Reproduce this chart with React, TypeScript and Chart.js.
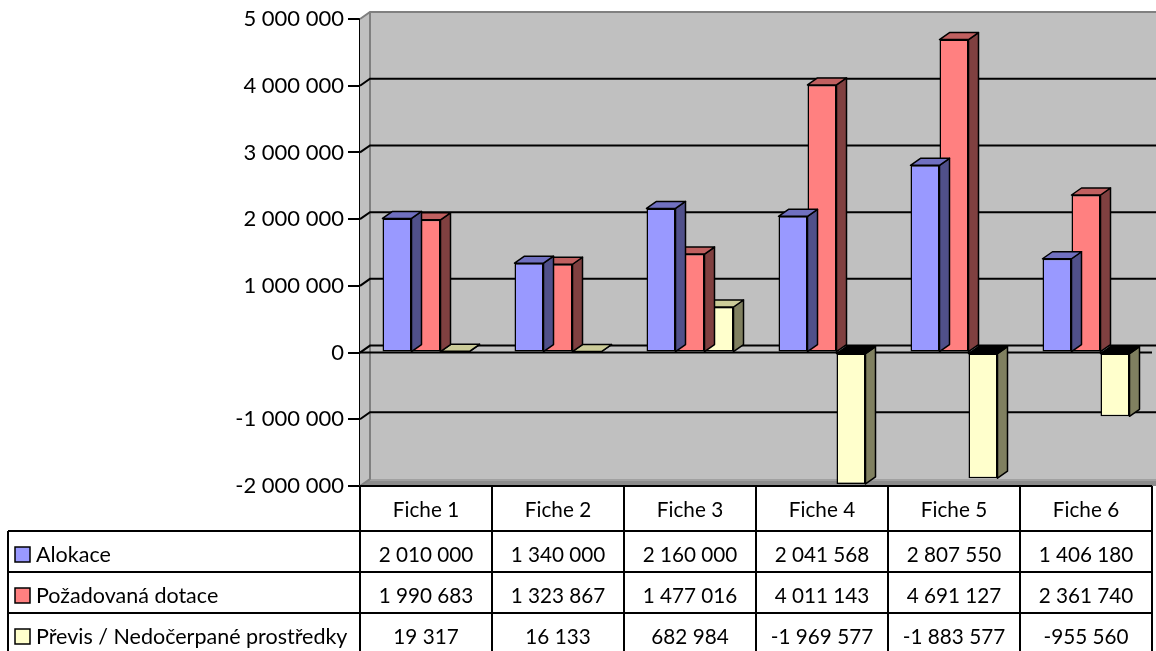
import React, { useEffect, useRef } from "react";
import { Chart, registerables } from "chart.js";
Chart.register(...registerables);

const categories = ["Fiche 1", "Fiche 2", "Fiche 3", "Fiche 4", "Fiche 5", "Fiche 6"];
const alokace = [2010000, 1340000, 2160000, 2041568, 2807550, 1406180];
const pozadovanaDotace = [1990683, 1323867, 1477016, 4011143, 4691127, 2361740];
const previs = [19317, 16133, 682984, -1969577, -1883577, -955560];
const seriesNames = ["Alokace", "Požadovaná dotace", "Převis / Nedočerpané prostředky"];
const yMin = -2000000;
const yMax = 5000000;
const yStep = 1000000;

const frontColors = ["#9999FF", "#FF8080", "#FFFFCC"];
const topColors = ["#7070C0", "#C06060", "#CCCC99"];
const sideColors = ["#50508A", "#804040", "#808060"];

const DX = 10;
const DY = 7;
const FONT = "Lato, 'Open Sans', sans-serif";

function fmt(n: number): string {
  const s = Math.round(Math.abs(n)).toString().replace(/\B(?=(\d{3})+(?!\d))/g, " ");
  return (n < 0 ? "-" : "") + s;
}

const wallsPlugin = {
  id: "walls3d",
  beforeDatasetsDraw(chart: any) {
    const ctx = chart.ctx;
    const ca = chart.chartArea;
    const y = chart.scales.y;
    const right = chart.width + 20;
    ctx.save();
    ctx.fillStyle = "#C0C0C0";
    ctx.fillRect(ca.left + DX, ca.top - DY, right - ca.left, ca.bottom - ca.top);
    ctx.beginPath();
    ctx.moveTo(ca.left, ca.top);
    ctx.lineTo(ca.left + DX, ca.top - DY);
    ctx.lineTo(ca.left + DX, ca.bottom - DY);
    ctx.lineTo(ca.left, ca.bottom);
    ctx.closePath();
    ctx.fill();
    ctx.fillStyle = "#8C8C8C";
    ctx.beginPath();
    ctx.moveTo(ca.left, ca.bottom);
    ctx.lineTo(ca.left + DX, ca.bottom - DY);
    ctx.lineTo(right, ca.bottom - DY);
    ctx.lineTo(right, ca.bottom);
    ctx.closePath();
    ctx.fill();
    ctx.strokeStyle = "#A8A8A8";
    ctx.lineWidth = 1.5;
    ctx.beginPath();
    ctx.moveTo(ca.left + DX, ca.bottom - DY + 1);
    ctx.lineTo(right, ca.bottom - DY + 1);
    ctx.stroke();
    ctx.strokeStyle = "#808080";
    ctx.lineWidth = 2;
    ctx.beginPath();
    ctx.moveTo(ca.left, ca.top);
    ctx.lineTo(ca.left + DX, ca.top - DY);
    ctx.lineTo(right, ca.top - DY);
    ctx.moveTo(ca.left + DX, ca.top - DY);
    ctx.lineTo(ca.left + DX, ca.bottom - DY);
    ctx.lineTo(ca.left, ca.bottom);
    ctx.stroke();
    ctx.strokeStyle = "#000";
    ctx.lineWidth = 2;
    for (let v = yMin + yStep; v < yMax; v += yStep) {
      const py = y.getPixelForValue(v);
      ctx.beginPath();
      ctx.moveTo(ca.left, py);
      ctx.lineTo(ca.left + DX, py - DY);
      ctx.lineTo(right, py - DY);
      ctx.stroke();
    }
    const p0 = y.getPixelForValue(0);
    ctx.beginPath();
    ctx.moveTo(ca.left, p0);
    ctx.lineTo(ca.right, p0);
    ctx.stroke();
    ctx.restore();
  },
  afterDatasetDraw(chart: any, args: any) {
    const ctx = chart.ctx;
    const di = args.index;
    const meta = chart.getDatasetMeta(di);
    const data = chart.data.datasets[di].data as number[];
    ctx.save();
    ctx.strokeStyle = "#000";
    ctx.lineWidth = 1.5;
    ctx.lineJoin = "round";
    meta.data.forEach((bar: any, i: number) => {
      const p = bar.getProps(["x", "y", "base", "width"], true);
      const x0 = p.x - p.width / 2;
      const x1 = p.x + p.width / 2;
      const top = Math.min(p.y, p.base);
      const bottom = Math.max(p.y, p.base);
      ctx.fillStyle = sideColors[di];
      ctx.beginPath();
      ctx.moveTo(x1, top);
      ctx.lineTo(x1 + DX, top - DY);
      ctx.lineTo(x1 + DX, bottom - DY);
      ctx.lineTo(x1, bottom);
      ctx.closePath();
      ctx.fill();
      ctx.stroke();
      ctx.fillStyle = data[i] < 0 ? "#000" : topColors[di];
      ctx.beginPath();
      ctx.moveTo(x0, top);
      ctx.lineTo(x1, top);
      ctx.lineTo(x1 + DX, top - DY);
      ctx.lineTo(x0 + DX, top - DY);
      ctx.closePath();
      ctx.fill();
      ctx.stroke();
    });
    ctx.restore();
  },
};

const tablePlugin = {
  id: "dataTable",
  afterDraw(chart: any) {
    const ctx = chart.ctx;
    const ca = chart.chartArea;
    const xs = chart.scales.x;
    const n = categories.length;
    const colW = (ca.right - ca.left) / n;
    const headTop = ca.bottom;
    const rowH = 41;
    const r1 = 531;
    const rows = [r1, r1 + rowH, r1 + 2 * rowH, r1 + 3 * rowH];
    const leftX = 8;
    const series = [alokace, pozadovanaDotace, previs];
    ctx.save();
    ctx.strokeStyle = "#000";
    ctx.lineWidth = 2;
    ctx.beginPath();
    ctx.moveTo(ca.left, headTop);
    ctx.lineTo(ca.right, headTop);
    for (let k = 0; k < 3; k++) {
      ctx.moveTo(leftX, rows[k]);
      ctx.lineTo(ca.right, rows[k]);
    }
    ctx.moveTo(leftX, rows[0]);
    ctx.lineTo(leftX, chart.height);
    for (let c = 0; c <= n; c++) {
      const x = ca.left + c * colW;
      ctx.moveTo(x, headTop);
      ctx.lineTo(x, chart.height);
    }
    ctx.stroke();
    ctx.fillStyle = "#000";
    ctx.font = "20.7px " + FONT;
    ctx.textAlign = "center";
    ctx.textBaseline = "middle";
    categories.forEach((c, i) => {
      const cx = xs.getPixelForValue(i);
      ctx.fillText(c, cx, (headTop + rows[0]) / 2 + 2);
      series.forEach((s, k) => {
        ctx.fillText(fmt(s[i]), cx, (rows[k] + rows[k + 1]) / 2 + 3.5);
      });
    });
    ctx.textAlign = "left";
    ctx.font = "21.5px " + FONT;
    seriesNames.forEach((name, k) => {
      const cy = (rows[k] + rows[k + 1]) / 2 + 3.5;
      ctx.fillStyle = frontColors[k];
      ctx.fillRect(15, cy - 8, 15, 15);
      ctx.strokeStyle = "#000";
      ctx.lineWidth = 1.5;
      ctx.strokeRect(15, cy - 8, 15, 15);
      ctx.fillStyle = "#000";
      ctx.fillText(name, 36, cy);
    });
    ctx.restore();
  },
};

export default function App() {
  const ref = useRef<HTMLCanvasElement>(null);
  useEffect(() => {
    if (!ref.current) return;
    const chart = new Chart(ref.current, {
      type: "bar",
      data: {
        labels: categories,
        datasets: [alokace, pozadovanaDotace, previs].map((d, k) => ({
          label: seriesNames[k],
          data: d,
          backgroundColor: frontColors[k],
          borderColor: "#000",
          borderWidth: 1.5,
          borderSkipped: false,
          categoryPercentage: 87 / 132,
          barPercentage: 1,
        })),
      },
      options: {
        responsive: false,
        animation: false,
        layout: { padding: { top: 19, bottom: 165, right: 4, left: 0 } },
        plugins: { legend: { display: false }, tooltip: { enabled: false } },
        scales: {
          x: { display: false, grid: { display: false } },
          y: {
            min: yMin,
            max: yMax,
            afterFit: (s: any) => {
              s.width = 360;
            },
            ticks: {
              stepSize: yStep,
              color: "#000",
              padding: 4,
              font: { family: FONT, size: 22 },
              callback: (v: any) => fmt(Number(v)),
            },
            grid: {
              drawOnChartArea: false,
              drawTicks: true,
              tickLength: 12,
              color: "#000",
              lineWidth: 2,
            },
            border: { display: true, color: "#000", width: 2 },
          },
        },
      },
      plugins: [wallsPlugin, tablePlugin],
    });
    return () => chart.destroy();
  }, []);
  return (
    <div style={{ position: "absolute", left: 0, top: 0, width: 1156, height: 651 }}>
      <canvas ref={ref} width={1156} height={651} style={{ width: 1156, height: 651, display: "block" }} />
    </div>
  );
}
